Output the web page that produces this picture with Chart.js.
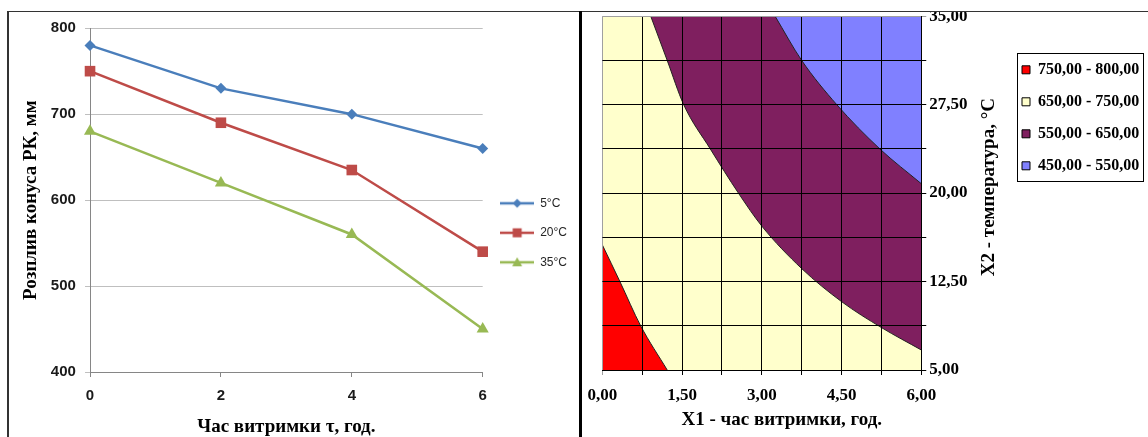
<!DOCTYPE html>
<html>
<head>
<meta charset="utf-8">
<script src="https://cdn.jsdelivr.net/npm/chart.js@4.4.1/dist/chart.umd.min.js"></script>
<style>
  html, body { margin: 0; padding: 0; background: #fff; }
  body { width: 1148px; height: 437px; position: relative; overflow: hidden; }
  canvas { position: absolute; }
  #lineChart { left: 9px; top: 10px; }
  #contourChart { left: 575px; top: 3px; }
  .mask { position: absolute; left: 0; top: 0; width: 1148px; height: 11px; background: #fff; z-index: 2; }
  .topline { position: absolute; left: 7px; top: 11px; width: 1141px; height: 1px; background: #333; z-index: 2; }
  .leftline { position: absolute; left: 7px; top: 11px; width: 2px; height: 426px; background: #333; z-index: 2; }
  .sep { position: absolute; left: 579px; top: 11px; width: 3px; height: 426px; background: #000; z-index: 2; }
</style>
</head>
<body>
<div class="mask"></div>
<div class="topline"></div>
<div class="leftline"></div>
<div class="sep"></div>
<canvas id="lineChart" width="570" height="427"></canvas>
<canvas id="contourChart" width="573" height="434"></canvas>
<script>
// Left chart: slump vs holding time
const hours = [0, 2, 4, 6];
const spread5 = [780, 730, 700, 660];
const spread20 = [750, 690, 635, 540];
const spread35 = [680, 620, 560, 450];
const seriesNames = ['5°C', '20°C', '35°C'];

// Right chart: contour boundaries (time, temperature)
const time750 = [0, 0.33, 0.72, 1.22];
const temp750 = [15.6, 12.5, 8.75, 5];
const time650 = [0.91, 1.22, 1.53, 2.03, 2.56, 3.0, 3.75, 4.5, 5.25, 6.0];
const temp650 = [35, 31.25, 27.5, 23.75, 20.0, 17.2, 13.6, 10.8, 8.6, 6.7];
const time550 = [3.25, 3.75, 4.41, 5.22, 6.0];
const temp550 = [35, 31.25, 27.5, 23.75, 20.8];
const timeRange = [0, 6];
const tempTop = [35, 35];
const bandLabels = ['750,00 - 800,00', '650,00 - 750,00', '550,00 - 650,00', '450,00 - 550,00'];

const serif = '"Liberation Serif", "Times New Roman", serif';
const sans = '"Liberation Sans", Arial, sans-serif';

function toPoints(xs, ys) {
    return xs.map((x, i) => ({x: x, y: ys[i]}));
}

function fmt(v) {
    return v.toFixed(2).replace('.', ',');
}

// small line+marker swatch for the legend
function legendImage(color, shape) {
    const c = document.createElement('canvas');
    c.width = 34;
    c.height = 14;
    const g = c.getContext('2d');
    g.strokeStyle = color;
    g.fillStyle = color;
    g.lineWidth = 2.5;
    g.beginPath();
    g.moveTo(0, 7);
    g.lineTo(34, 7);
    g.stroke();
    g.beginPath();
    if (shape === 'rectRot') {
        g.moveTo(17, 2.5); g.lineTo(21.5, 7); g.lineTo(17, 11.5); g.lineTo(12.5, 7);
    } else if (shape === 'rect') {
        g.rect(12.5, 2.5, 9, 9);
    } else {
        g.moveTo(17, 2); g.lineTo(22, 11); g.lineTo(12, 11);
    }
    g.closePath();
    g.fill();
    return c;
}

const lineColors = ['#4A7EBB', '#BE4B48', '#98B954'];
const lineShapes = ['rectRot', 'rect', 'triangle'];
const lineRadius = [5.5, 7.5, 7];
const legendImages = lineColors.map((c, i) => legendImage(c, lineShapes[i]));

const lineChart = new Chart(document.getElementById('lineChart'), {
    type: 'line',
    data: {
        datasets: [spread5, spread20, spread35].map((vals, i) => ({
            label: seriesNames[i],
            data: toPoints(hours, vals),
            borderColor: lineColors[i],
            backgroundColor: lineColors[i],
            borderWidth: 2.5,
            pointStyle: lineShapes[i],
            pointRadius: lineRadius[i],
            pointBorderWidth: 0,
            clip: false,
            fill: false
        }))
    },
    options: {
        responsive: false,
        animation: false,
        events: [],
        layout: { padding: { top: 9, left: 9, right: 2, bottom: 0 } },
        scales: {
            x: {
                type: 'linear',
                min: 0,
                max: 6,
                grid: { drawOnChartArea: false, color: '#868686', tickLength: 5 },
                border: { color: '#868686' },
                ticks: { stepSize: 2, autoSkip: false, maxRotation: 0, padding: 11.5,
                         color: '#1a1a1a', font: { family: sans, size: 15, weight: 'bold', lineHeight: 1 } },
                title: { display: true, text: 'Час витримки τ, год.', color: '#000',
                         padding: { top: 3, bottom: 0 },
                         font: { family: serif, size: 19, weight: 'bold', lineHeight: 1 } }
            },
            y: {
                min: 400,
                max: 800,
                grid: { color: '#BFBFBF', tickLength: 5 },
                border: { color: '#868686' },
                ticks: { stepSize: 100, padding: 9.2, color: '#1a1a1a',
                         font: { family: sans, size: 15, weight: 'bold' } },
                title: { display: true, text: 'Розплив конуса РК, мм', color: '#000',
                         padding: { top: 4, bottom: 0.6 },
                         font: { family: serif, size: 19, weight: 'bold', lineHeight: 1 } }
            }
        },
        plugins: {
            tooltip: { enabled: false },
            legend: {
                position: 'right',
                title: { display: true, text: '', padding: 0, font: { size: 8 } },
                labels: {
                    usePointStyle: true,
                    pointStyleWidth: 34,
                    padding: 17.5,
                    color: '#262626',
                    font: { family: sans, size: 12 },
                    generateLabels: (chart) => Chart.defaults.plugins.legend.labels.generateLabels(chart)
                        .map(item => Object.assign(item, { pointStyle: legendImages[item.datasetIndex] }))
                }
            }
        }
    }
});

const bandColors = ['#FF0000', '#FFFFCC', '#7F1F5F', '#8080FF'];

// legend frame and the two axis titles of the contour plot
const contourExtras = {
    id: 'contourExtras',
    afterDraw(chart) {
        const ctx = chart.ctx;
        const boxes = chart.legend.legendHitBoxes;
        if (boxes && boxes.length) {
            const l = Math.min(...boxes.map(b => b.left)) - 5;
            const r = Math.max(...boxes.map(b => b.left + b.width)) + 4;
            const t = Math.min(...boxes.map(b => b.top)) - 9;
            const b = Math.max(...boxes.map(b => b.top + b.height)) + 7;
            ctx.save();
            ctx.strokeStyle = '#000';
            ctx.lineWidth = 1;
            ctx.strokeRect(Math.round(l) + 0.5, Math.round(t) + 0.5, Math.round(r - l), Math.round(b - t));
            ctx.restore();
        }
        const area = chart.chartArea;
        ctx.save();
        ctx.font = 'bold 19px ' + serif;
        ctx.fillStyle = '#000';
        ctx.textAlign = 'center';
        ctx.textBaseline = 'middle';
        ctx.fillText('X1 - час витримки, год.', (area.left + area.right) / 2 + 20, chart.scales.x.bottom - 17);
        ctx.translate(chart.scales.y.right - 17, (area.top + area.bottom) / 2 - 6);
        ctx.rotate(-Math.PI / 2);
        ctx.fillText('X2 - температура, °C', 0, 0);
        ctx.restore();
    }
};

const contourChart = new Chart(document.getElementById('contourChart'), {
    type: 'line',
    data: {
        datasets: [
            { label: bandLabels[0], data: toPoints(time750, temp750), fill: 'start', order: 0,
              backgroundColor: bandColors[0], borderColor: '#222', borderWidth: 1 },
            { label: bandLabels[1], data: toPoints(timeRange, tempTop), fill: 'start', order: 3,
              backgroundColor: bandColors[1], borderColor: 'rgba(0,0,0,0)', borderWidth: 0 },
            { label: bandLabels[2], data: toPoints(time650, temp650), fill: 'end', order: 2,
              backgroundColor: bandColors[2], borderColor: '#222', borderWidth: 1 },
            { label: bandLabels[3], data: toPoints(time550, temp550), fill: 'end', order: 1,
              backgroundColor: bandColors[3], borderColor: '#222', borderWidth: 1 }
        ].map(d => Object.assign(d, { pointRadius: 0, cubicInterpolationMode: 'monotone' }))
    },
    options: {
        responsive: false,
        animation: false,
        events: [],
        layout: { padding: { top: 0, left: 14, right: 3, bottom: 0 } },
        scales: {
            x: {
                type: 'linear',
                min: 0,
                max: 6,
                grid: { z: 1, tickLength: 5, color: c => c.index === 0 ? '#a0a0a0' : '#000' },
                border: { z: 1, color: '#000' },
                ticks: { stepSize: 0.75, autoSkip: false, maxRotation: 0, padding: 12.5, color: '#000',
                         font: { family: serif, size: 17, weight: 'bold', lineHeight: 1 },
                         callback: v => Math.round(v / 0.75) % 2 === 0 ? fmt(v) : '' },
                afterFit: (scale) => { scale.height += 20; }
            },
            y: {
                position: 'right',
                min: 5,
                max: 35,
                grid: { z: 1, tickLength: 5, color: c => c.tick && c.tick.value === 35 ? '#a0a0a0' : '#000' },
                border: { z: 1, color: '#000' },
                ticks: { stepSize: 3.75, autoSkip: false, padding: 3, color: '#000',
                         font: { family: serif, size: 17, weight: 'bold' },
                         callback: v => Math.round((v - 5) / 3.75) % 2 === 0 ? fmt(v) : '' },
                afterFit: (scale) => { scale.width += 35.5; }
            }
        },
        plugins: {
            tooltip: { enabled: false },
            legend: {
                position: 'right',
                align: 'start',
                title: { display: true, text: '', padding: { top: 26, bottom: 0 }, font: { size: 14 } },
                labels: {
                    boxWidth: 8,
                    boxHeight: 8,
                    padding: 16,
                    color: '#000',
                    font: { family: serif, size: 16, weight: 'bold' },
                    sort: (a, b) => a.datasetIndex - b.datasetIndex,
                    generateLabels: (chart) => Chart.defaults.plugins.legend.labels.generateLabels(chart)
                        .map(item => Object.assign(item, {
                            fillStyle: bandColors[item.datasetIndex], strokeStyle: '#000', lineWidth: 1
                        }))
                }
            }
        }
    },
    plugins: [contourExtras]
});
</script>
</body>
</html>
